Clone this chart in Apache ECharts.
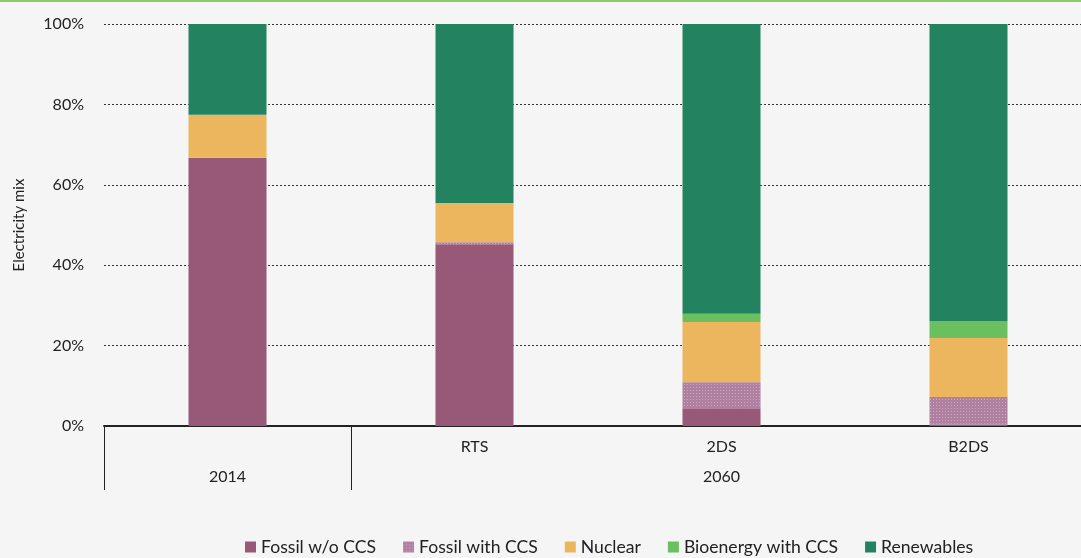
<!DOCTYPE html>
<html>
<head>
<meta charset="utf-8">
<script src="https://cdn.jsdelivr.net/npm/echarts@6/dist/echarts.min.js"></script>
<style>
  html, body { margin: 0; padding: 0; background: #f5f5f5; }
  #chart { width: 1081px; height: 558px; }
</style>
</head>
<body>
<div id="chart"></div>
<script>
// scenarios (lower row = year group)
const scenarios = ["", "RTS", "2DS", "B2DS"];
const years = ["2014", "", "2060", ""];
const yTicks = [0, 20, 40, 60, 80, 100];

// share of electricity mix, %
const fossilNoCcs = [66.7, 45.2, 4.4, 0.4];
const fossilCcs = [0, 0.5, 6.5, 6.8];
const nuclear = [10.7, 9.8, 15.0, 14.7];
const bioCcs = [0, 0, 2.0, 4.2];
const renewables = [22.6, 44.5, 72.1, 73.9];

const chart = echarts.init(document.getElementById("chart"));
const font = "Lato, 'Open Sans', sans-serif";

function bar(name, data, color, decal) {
  return {
    name: name,
    type: "bar",
    stack: "mix",
    barWidth: 78,
    data: data,
    itemStyle: { color: color, decal: decal },
    animation: false
  };
}

chart.setOption({
  backgroundColor: "#f5f5f5",
  aria: { enabled: false },
  graphic: [
    {
      type: "rect",
      left: 0,
      top: 0,
      shape: { width: 1081, height: 2 },
      style: { fill: "#8cc866" }
    }
  ],
  grid: {
    left: 104,
    width: 988,
    top: 24,
    bottom: 132,
    containLabel: false,
    outerBoundsMode: "none"
  },
  legend: {
    bottom: -3,
    left: 240,
    itemWidth: 11,
    itemHeight: 11,
    itemGap: 27,
    icon: "rect",
    textStyle: { fontFamily: font, fontSize: 17.6, color: "#222" },
    data: ["Fossil w/o CCS", "Fossil with CCS", "Nuclear", "Bioenergy with CCS", "Renewables"]
  },
  xAxis: [
    {
      type: "category",
      data: scenarios,
      axisLine: { lineStyle: { color: "#222", width: 2 } },
      axisTick: {
        show: true,
        length: 64,
        interval: function (index) { return index <= 1; },
        lineStyle: { color: "#222", width: 1 }
      },
      axisLabel: { fontFamily: font, fontSize: 16, color: "#222", margin: 13 }
    },
    {
      type: "category",
      data: years,
      position: "bottom",
      offset: 30,
      axisLine: { show: false },
      axisTick: { show: false },
      axisLabel: { fontFamily: font, fontSize: 16, color: "#222", margin: 13, interval: 0 }
    }
  ],
  yAxis: {
    type: "value",
    min: 0,
    max: 100,
    interval: 20,
    name: "Electricity mix",
    nameLocation: "middle",
    nameGap: 77,
    nameTextStyle: { fontFamily: font, fontSize: 15, color: "#222" },
    axisLine: { show: false },
    axisTick: { show: false },
    axisLabel: {
      fontFamily: font,
      fontSize: 16,
      color: "#222",
      margin: 20,
      formatter: function (v) { return yTicks.indexOf(v) >= 0 ? v + "%" : ""; }
    },
    splitLine: { lineStyle: { color: "#333", type: [2, 2], width: 1 } }
  },
  series: [
    bar("Fossil w/o CCS", fossilNoCcs, "#985978"),
    bar("Fossil with CCS", fossilCcs, "#b080a0", {
      symbol: "rect",
      symbolSize: 1,
      color: "rgba(230,200,220,0.55)",
      dashArrayX: [1, 2],
      dashArrayY: [1, 2],
      rotation: 0
    }),
    bar("Nuclear", nuclear, "#ebb65d"),
    bar("Bioenergy with CCS", bioCcs, "#6abf5f"),
    bar("Renewables", renewables, "#238361")
  ]
});
</script>
</body>
</html>
